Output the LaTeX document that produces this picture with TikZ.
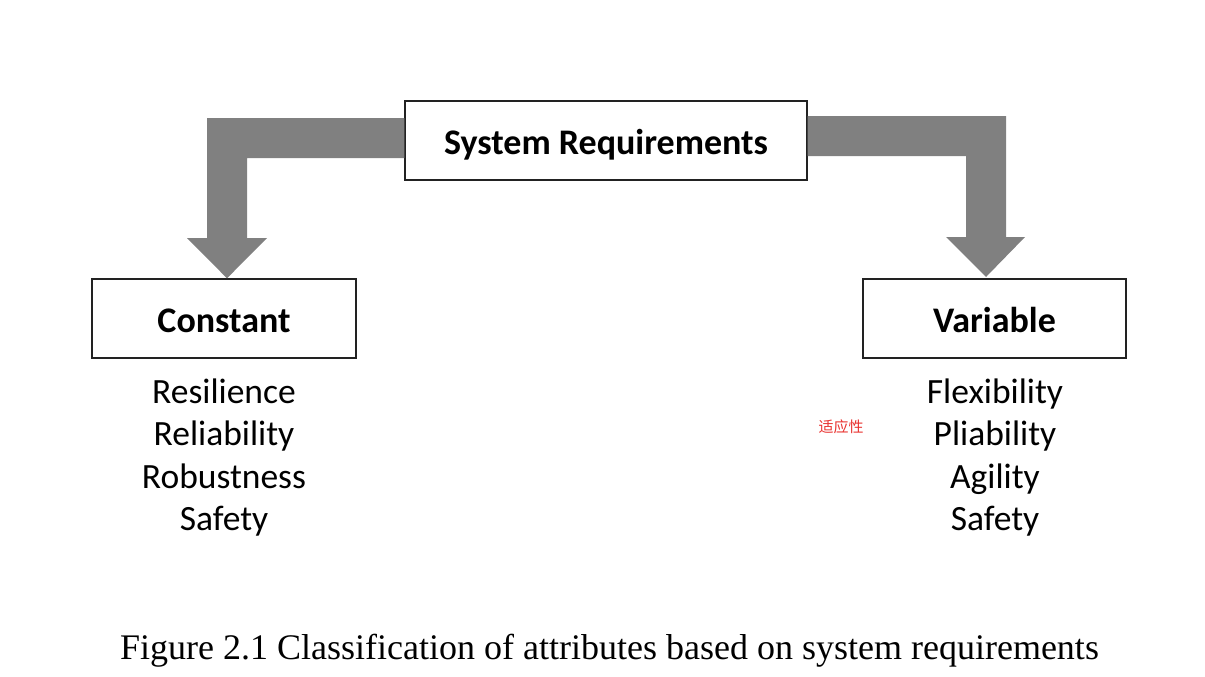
\documentclass[tikz,border=0pt]{standalone}
\usepackage{fontspec}
\setmainfont{Liberation Serif}
\newfontfamily\calfont{Carlito}
\newfontfamily\cjkfont{Noto Sans CJK SC}
\definecolor{arrowgray}{RGB}{128,128,128}
\definecolor{boxline}{RGB}{34,34,34}
\definecolor{notered}{RGB}{232,50,47}
\begin{document}
\begin{tikzpicture}[x=1pt,y=-1pt,
  reqbox/.style={draw=boxline,line width=1.4pt,fill=white,inner sep=0pt,
    text height=28pt,text depth=0pt,minimum height=79pt,
    font=\calfont\bfseries\fontsize{36}{40}\selectfont},
  item/.style={font=\calfont\fontsize{35.5}{40}\selectfont,inner sep=0pt,anchor=base},
  bigarrow/.style={fill=arrowgray,draw=none}]
\useasboundingbox (0,0) rectangle (1205,677);
\node[reqbox,minimum width=402pt] (sys) at (606,140.5) {System Requirements};
\node[reqbox,minimum width=264pt] (const) at (224,318.5) {Constant};
\node[reqbox,minimum width=263pt] (var) at (994.5,318.5) {Variable};
% arrows
\fill[bigarrow] (sys.west |- 0,118) -- (207,118) -- (207,238) -- (187,238)
  -- (const.north -| 227,0) -- (267,238) -- (247,238) -- (247,158) -- (sys.west |- 0,158) -- cycle;
\fill[bigarrow] (sys.east |- 0,116) -- (1006,116) -- (1006,237) -- (1025,237)
  -- (986,277) -- (946,237) -- (966,237) -- (966,156) -- (sys.east |- 0,156) -- cycle;
\node[item] (c1) at (224,403) {Resilience};
\node[item] (c2) at (224,445.5) {Reliability};
\node[item] (c3) at (224,488) {Robustness};
\node[item] (c4) at (224,530.5) {Safety};
\node[item] (v1) at (995,403) {Flexibility};
\node[item] (v2) at (995,445.5) {Pliability};
\node[item] (v3) at (995,488) {Agility};
\node[item] (v4) at (995,530.5) {Safety};
\node[font=\cjkfont\fontsize{15}{18}\selectfont,text=notered,inner sep=0pt] (note) at (841,427) {适应性};
\node[font=\fontsize{36}{40}\selectfont,inner sep=0pt,anchor=base] (cap) at (609.5,659.5) {Figure 2.1 Classification of attributes based on system requirements};
\end{tikzpicture}
\end{document}
